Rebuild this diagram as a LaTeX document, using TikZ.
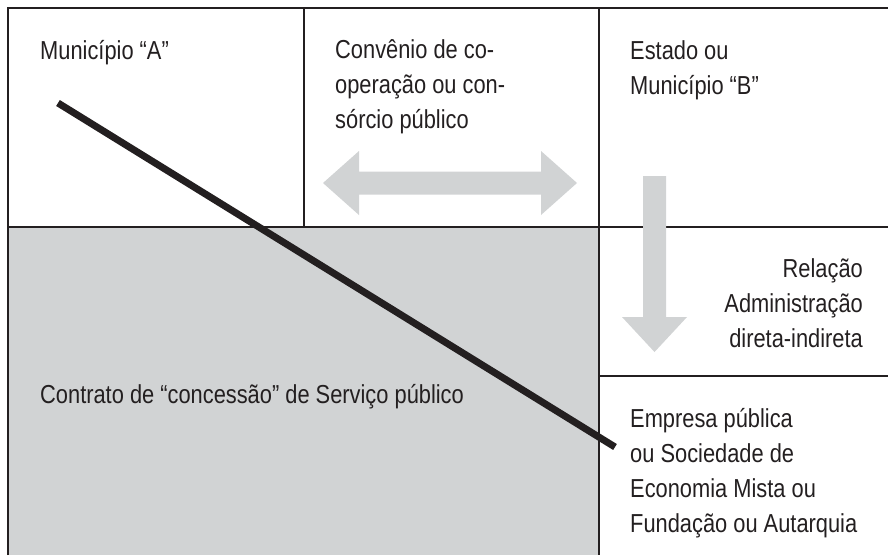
\documentclass[tikz,border=0pt]{standalone}
\usepackage{fontspec}
\setmainfont[FakeStretch=0.84]{Liberation Sans}
\definecolor{cellgray}{HTML}{D1D3D4}
\definecolor{inkline}{HTML}{231F20}
\begin{document}
\begin{tikzpicture}[x=1pt,y=-1pt,
    txt/.style={inner sep=0pt, text=inkline, font=\fontsize{26}{35}\selectfont}]
    \useasboundingbox (0,0) rectangle (888,555);
    \fill [cellgray] (8,227) rectangle (599,555);
    \draw [line width=2, inkline] (8,555) -- (8,8) -- (888,8);
    \draw [line width=2, inkline] (304,8) -- (304,227);
    \draw [line width=2, inkline] (599,8) -- (599,555);
    \draw [line width=2, inkline] (8,227) -- (888,227);
    \draw [line width=2, inkline] (599,376) -- (888,376);
    \fill [cellgray] (323,183) -- (359,151) -- (359,171.5) -- (541,171.5) -- (541,151) -- (577,183)
        -- (541,215) -- (541,194.5) -- (359,194.5) -- (359,215) -- cycle;
    \fill [cellgray] (643,176) -- (666,176) -- (666,317) -- (687,317) -- (654.5,352)
        -- (622,317) -- (643,317) -- cycle;
    \node [txt, anchor=base west] (munA) at (40,59) {Município “A”};
    \node [txt, anchor=base west, align=left] (conv) at (335,128) {Convênio de co-\\operação ou con-\\sórcio público};
    \node [txt, anchor=base west, align=left] (estado) at (630,94) {Estado ou\\Município “B”};
    \node [txt, anchor=base east, align=right] (relacao) at (863,347) {Relação\\Administração\\direta-indireta};
    \node [txt, anchor=base west] (contrato) at (40,403) {Contrato de “concessão” de Serviço público};
    \node [txt, anchor=base west, align=left] (empresa) at (630,532) {Empresa pública\\ou Sociedade de\\Economia Mista ou\\Fundação ou Autarquia};
    \coordinate (cutA) at (58,103);
    \coordinate (cutB) at (615,447);
    \draw [line width=7, inkline] (cutA) -- (cutB);
\end{tikzpicture}
\end{document}
